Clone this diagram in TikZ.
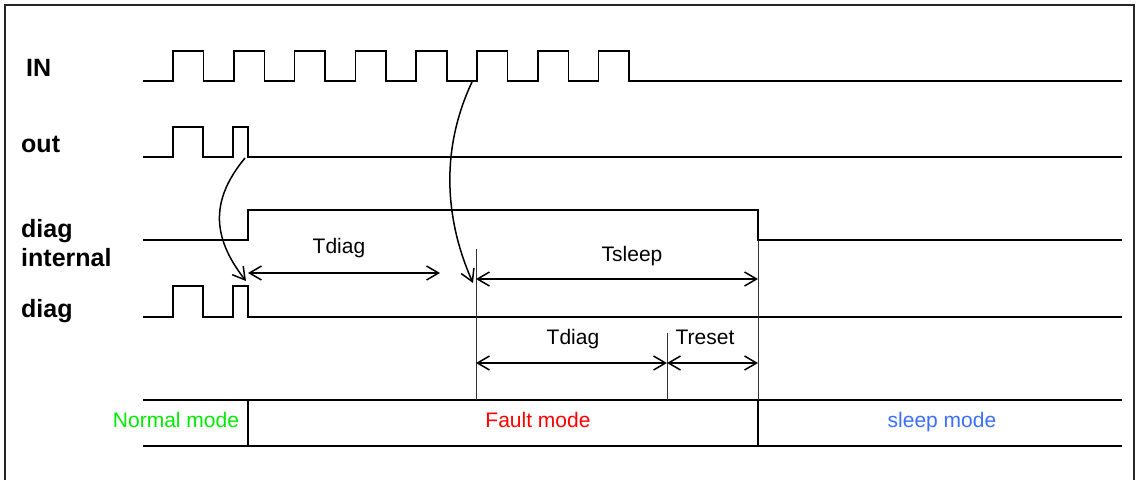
\documentclass[tikz,border=0pt]{standalone}
\usepackage{fontspec}
\setmainfont{Liberation Sans}
\usetikzlibrary{arrows.meta}
\definecolor{normalgreen}{RGB}{0,235,0}
\definecolor{faultred}{RGB}{255,0,0}
\definecolor{sleepblue}{RGB}{60,110,255}
\tikzstyle{wave} = [draw,line width=1.6pt]
\tikzstyle{guide} = [draw,line width=0.9pt,black!80]
\tikzstyle{span} = [draw,line width=1.5pt,{Straight Barb[length=12pt,width=14pt]}-{Straight Barb[length=12pt,width=14pt]}]
\tikzstyle{cause} = [draw,line width=1.5pt,-{Straight Barb[length=12pt,width=14pt]}]
\tikzstyle{signame} = [anchor=base west,inner sep=0pt,font=\fontsize{25}{30}\selectfont\bfseries]
\tikzstyle{weight} = [anchor=base,inner sep=0pt,font=\fontsize{21}{25}\selectfont]

\begin{document}
\begin{tikzpicture}[x=1pt,y=-1pt]
	\useasboundingbox (0,0) rectangle (1138,480);
	\draw[line width=1.4pt,black!85] (5,480) -- (5,5) -- (1134,5) -- (1134,480);

	% signal names
	\node[signame] (nIN) at (26,76) {IN};
	\node[signame] (nout) at (21,152) {out};
	\node[signame] (ndiagint) at (21,237) {diag};
	\node[signame] (ninternal) at (21,266) {internal};
	\node[signame] (ndiag) at (21,317) {diag};

	% waveforms
	\draw[wave] (143,81) foreach \k in {0,...,7} { -| ({173+60.8*\k},51) -| ({203.5+60.8*\k},81) } -- (1122,81);
	\draw[wave] (143,157) -| (173,127) -| (203,157) -| (233,127) -| (248,157) -- (1122,157);
	\draw[wave] (143,240) -| (248,210) -| (758,240) -- (1122,240);
	\draw[wave] (143,317) -| (173,286) -| (203,317) -| (233,286) -| (248,317) -- (1122,317);

	% mode band
	\foreach \y in {400,446}
		\draw[wave] (143,\y) -- (1122,\y);
	\foreach \x in {248,758}
		\draw[wave] (\x,400) -- (\x,446);
	\draw[guide] (476,249) -- (476,400);
	\draw[guide] (667,333) -- (667,400);
	\draw[guide] (758,240) -- (758,400);

	% time spans
	\coordinate (tdA) at (248,273);
	\coordinate (tdB) at (440,273);
	\coordinate (tsA) at (476,279);
	\coordinate (tsB) at (758,279);
	\coordinate (tdC) at (476,363);
	\coordinate (tdD) at (667,363);
	\coordinate (trB) at (758,363);
	\foreach \source/ \dest in {tdA/tdB, tsA/tsB, tdC/tdD, tdD/trB}
		\path[span] (\source) -- (\dest);
	\node[weight] (wtd1) at (339,253) {Tdiag};
	\node[weight] (wts) at (632,261) {Tsleep};
	\node[weight] (wtd2) at (573,344) {Tdiag};
	\node[weight] (wtr) at (705,344) {Treset};

	% causes
	\coordinate (outfall) at (245,158);
	\coordinate (diagrise) at (246,281);
	\coordinate (inrise) at (472,82);
	\coordinate (faultstart) at (473,283);
	\path[cause] (outfall) .. controls (212,198) and (210,235) .. (diagrise);
	\path[cause] (inrise) .. controls (440,150) and (445,220) .. (faultstart);

	% modes
	\node[weight,text=normalgreen] (mnormal) at (176,427) {Normal mode};
	\node[weight,text=faultred] (mfault) at (538,427) {Fault mode};
	\node[weight,text=sleepblue] (msleep) at (942,427) {sleep mode};
\end{tikzpicture}
\end{document}
